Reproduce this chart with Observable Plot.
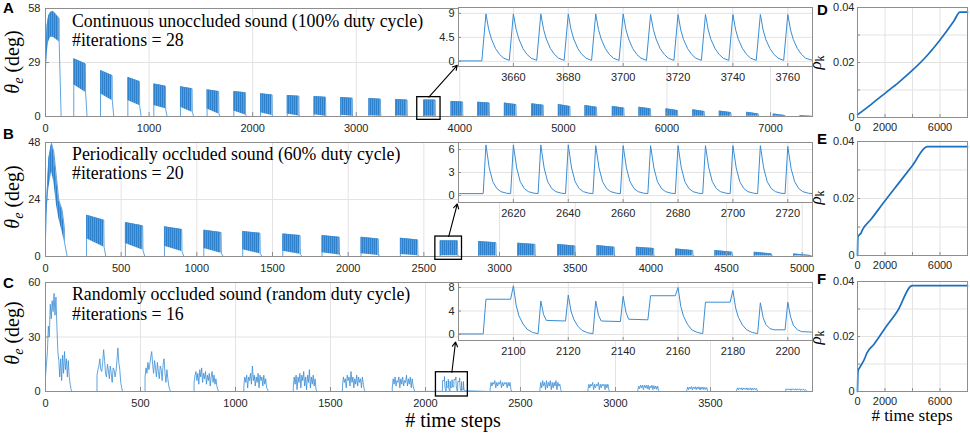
<!DOCTYPE html>
<html><head><meta charset="utf-8">
<script src="https://cdn.jsdelivr.net/npm/d3@7"></script>
<script src="https://cdn.jsdelivr.net/npm/@observablehq/plot@0.6"></script>
<style>
html,body{margin:0;padding:0;background:#fff;}
#wrap{position:relative;width:970px;height:434px;overflow:hidden;background:#fff;}
.p{position:absolute;}
</style></head><body>
<svg width="0" height="0" style="position:absolute"><defs>
<pattern id="hatch" patternUnits="userSpaceOnUse" width="2" height="3">
<rect width="2" height="3" fill="#579dda"/><rect width="1" height="3" fill="#2e80ca"/>
</pattern></defs></svg>
<div id="wrap"></div>
<script>
// ---------------- Panel A: continuous sound ----------------
const A_xticks = [0,1000,2000,3000,4000,5000,6000,7000];
const A_yticks = [0,29,58];
const A_start = [0,273,531,795,1046,1303,1560,1818,2076,2334,2592,2850,3122,3379,3650,3915,4172,4430,4693,4951,5208,5472,5729,5990,6248,6505,6769,7026,7283];
const A1_t  = [0,8,16,30,50,74,113,132];
const A1_lo = [23,28,34,40,42.5,42.5,41,40];
const A1_hi = [25,38,49,54,56,56.4,54,52.5];
const A1_end = 151;
const A_hi0 = [31,24.7,21,17.5,16,14.3,13.4,12.2,11.3,10.7,10.2,9.7,9.1,8.9,8.1,7.7,7.2,6.8,6.4,5.9,5.4,5,4.1,3.6,2.9,2.3,1.4,0.5];
const A_hi1 = [28.3,22,18.8,16.3,14.9,13.4,12.8,11.6,10.9,10.3,9.8,9.3,8.8,8.8,7.8,7.2,6.4,6.1,5.4,5,4.5,4.1,3.2,2.7,2.1,1.4,0.5,0.2];
const A_lo0 = [17,12.2,8.6,5.9,5,4,3,2,1.4,1,0.7,0.4,0.3,0.1,0.1,0.1,0.1,0.1,0.1,0.1,0.1,0.1,0.1,0.1,0.1,0.1,0.1,0.1];
const A_lo1 = [13,8.6,5.9,4.1,2.3,1.4,0.8,0.5,0.3,0.2,0.2,0.1,0.1,0.1,0.1,0.1,0.1,0.1,0.1,0.1,0.1,0.1,0.1,0.1,0.1,0.1,0.1,0.1];
const A_box = {x1:3589,x2:3814,y1:-1.8,y2:10.4};
const A_arrow = {x1:3701,y1:10.4,x2:3975,y2:27.5};
// inset A
const AI_xticks = [3660,3680,3700,3720,3740,3760];
const AI_yticks = [0,4.5,9];
const AI_data = [
[3640,0.1],[3648.5,0.1],
[3650,8.9],[3651,6],[3652,4.2],[3653.5,2.4],[3655,1.3],[3656.5,0.6],[3658.5,0.2],
[3660,8.9],[3661,6],[3662,4.2],[3663.5,2.4],[3665,1.3],[3666.5,0.6],[3668.5,0.2],
[3670,8.9],[3671,6],[3672,4.2],[3673.5,2.4],[3675,1.3],[3676.5,0.6],[3678.5,0.2],
[3680,8.9],[3681,6],[3682,4.2],[3683.5,2.4],[3685,1.3],[3686.5,0.6],[3688.5,0.2],
[3690,8.9],[3691,6],[3692,4.2],[3693.5,2.4],[3695,1.3],[3696.5,0.6],[3698.5,0.2],
[3700,8.9],[3701,6],[3702,4.2],[3703.5,2.4],[3705,1.3],[3706.5,0.6],[3708.5,0.2],
[3710,8.8],[3711,6],[3712,4.2],[3713.5,2.4],[3715,1.3],[3716.5,0.6],[3718.5,0.2],
[3720,8.8],[3721,5.9],[3722,4.1],[3723.5,2.4],[3725,1.3],[3726.5,0.6],[3728.5,0.2],
[3730,8.8],[3731,5.9],[3732,4.1],[3733.5,2.4],[3735,1.3],[3736.5,0.6],[3738.5,0.2],
[3740,8.8],[3741,5.9],[3742,4.1],[3743.5,2.4],[3745,1.3],[3746.5,0.6],[3748.5,0.2],
[3750,8.8],[3751,5.9],[3752,4.1],[3753.5,2.4],[3755,1.3],[3756.5,0.6],[3758.5,0.2],
[3760,8.8],[3761,5.9],[3762,4.1],[3763.5,2.4],[3765,1.3],[3766.5,0.6],[3769,0.2]
];

// ---------------- Panel B: periodically occluded ----------------
const B_xticks = [0,500,1000,1500,2000,2500,3000,3500,4000,4500,5000];
const B_yticks = [0,24,48];
const B_start = [0,271,528,786,1046,1303,1568,1827,2085,2345,2608,2862,3120,3384,3644,3904,4163,4423,4683,4943];
const B1_t  = [0,7,22,40,55,73,88,110,125];
const B1_lo = [7.6,18,28.6,35.7,31.4,21.6,16,10.4,6.2];
const B1_hi = [7.6,21.6,41.3,47.6,44,32.8,23.7,19.5,11.8];
const B1_end = 143;
const B_hi0 = [17.4,14.3,12.5,11.1,10.5,9.5,8.8,8.1,7.7,6.6,6.3,5.6,5.1,4.6,3.9,3.2,2.5,1.8,1.1];
const B_hi1 = [15.3,12.9,11.4,10.1,9.8,8.8,8.1,7.4,7.0,6.6,5.8,5.1,4.4,3.9,3.4,2.5,1.8,1.1,0.4];
const B_lo0 = [7.5,5.5,4.3,3.4,2.8,2.2,1.6,1.2,0.8,0.3,0.2,0.2,0.2,0.2,0.2,0.2,0.2,0.2,0.2];
const B_lo1 = [4,2.7,2.1,1.4,1.2,0.9,0.6,0.4,0.3,0.3,0.2,0.2,0.2,0.2,0.2,0.2,0.2,0.2,0.2];
const B_box = {x1:2576,x2:2752,y1:-1.4,y2:8.4};
const B_arrow = {x1:2664,y1:8.4,x2:2721,y2:22.1};
// inset B
const BI_xticks = [2620,2640,2660,2680,2700,2720];
const BI_yticks = [0,3,6];
const BI_data = [
[2600,0.25],[2609,0.25],
[2610,6.6],[2611.2,3.6],[2612.5,1.8],[2614,0.9],[2615.5,0.5],[2617.5,0.3],[2619,0.25],
[2620,6.6],[2621.2,3.6],[2622.5,1.8],[2624,0.9],[2625.5,0.5],[2627.5,0.3],[2629,0.25],
[2630,6.6],[2631.2,3.6],[2632.5,1.8],[2634,0.9],[2635.5,0.5],[2637.5,0.3],[2639,0.25],
[2640,6.6],[2641.2,3.6],[2642.5,1.8],[2644,0.9],[2645.5,0.5],[2647.5,0.3],[2649,0.25],
[2650,6.5],[2651.2,3.6],[2652.5,1.8],[2654,0.9],[2655.5,0.5],[2657.5,0.3],[2659,0.25],
[2660,6.5],[2661.2,3.6],[2662.5,1.8],[2664,0.9],[2665.5,0.5],[2667.5,0.3],[2669,0.25],
[2670,6.5],[2671.2,3.6],[2672.5,1.8],[2674,0.9],[2675.5,0.5],[2677.5,0.3],[2679,0.25],
[2680,6.5],[2681.2,3.6],[2682.5,1.8],[2684,0.9],[2685.5,0.5],[2687.5,0.3],[2689,0.25],
[2690,6.5],[2691.2,3.6],[2692.5,1.8],[2694,0.9],[2695.5,0.5],[2697.5,0.3],[2699,0.25],
[2700,6.5],[2701.2,3.6],[2702.5,1.8],[2704,0.9],[2705.5,0.5],[2707.5,0.3],[2709,0.25],
[2710,6.5],[2711.2,3.6],[2712.5,1.8],[2714,0.9],[2715.5,0.5],[2717.5,0.3],[2719,0.25],
[2720,6.4],[2721.2,3.5],[2722.5,1.8],[2724,0.9],[2725.5,0.5],[2727.5,0.3],[2729,0.25]
];

// ---------------- Panel C: randomly occluded ----------------
const C_xticks = [0,500,1000,1500,2000,2500,3000,3500];
const C_yticks = [0,30,60];
const C_start = [0,271,524,782,1044,1304,1563,1825,2080,2340,2602,2855,3117,3375,3637,3894];
const C_step = 5;
const C_vals = [
 [8,15,22,36,30,48,40,50,44,54,42,52,36,22,17,8,18,6,20,10,22,12,18,8,17,8,4,1,0],
 [9,12,14,18,12,11,16,23,17,10,8,15,12,7,14,10,5,13,12,8,11,17,24,16,12,5,2,0],
 [8,13,10,16,12,15,19,22,15,10,17,13,8,16,11,7,14,12,6,15,18,10,5,12,7,3,1,0],
 [5,9,11,6,10,4,12,8,13,5,10,7,11,4,9,6,10,3,8,11,5,9,4,7,3,1,0],
 [3,8,5,9,2,8,6,10,4,14,6,9,3,8,5,10,2,9,6,8,3,9,4,7,2,1,0],
 [2,8,4,9,1,8,5,10,2,9,6,11,3,8,1,9,5,12,2,8,4,9,3,7,1,0],
 [3,8,5,7,2,9,6,8,3,11,5,8,2,7,4,9,3,8,5,7,2,8,4,1,0],
 [2,7,4,8,3,6,5,8,2,7,4,8,3,6,5,9,3,7,4,8,2,7,3,1,0],
 null,
 [1,5,3,5,4,6,2,5,3,5,4,6,2,5,3,5,4,5,2,5,3,5,1,0],
 [1,5,2,6,3,5,1,6,2,5,3,6,1,5,2,5,3,6,1,5,3,4,1,0],
 [1,4,2,4,3,5,1,4,2,4,3,5,1,4,2,4,3,4,1,4,2,4,1,0],
 [0.5,3,1.5,3.5,2,3.5,1,3.5,2,3.5,1.5,3.5,1,3,2,3.5,1,3.2,1.5,3,1.2,3,0.6,0],
 [0.5,2.5,1,2.5,1.5,2.7,0.8,2.5,1.5,2.6,1,2.5,1.4,2.6,0.8,2.4,1.2,2.5,1,2.3,1.1,2.2,0.5,0],
 [0.3,2,1,2,1.2,2,0.8,2,1.2,1.9,1,2,0.8,1.8,1,2,0.7,1.9,1,1.8,0.9,1.7,0.4,0],
 [0.2,1.5,0.8,1.5,0.9,1.5,0.6,1.5,1,1.4,0.8,1.5,0.7,1.4,0.9,1.5,0.6,1.4,0.8,1.3,0.7,1.2,0.4,0]
];
const C_box = {x1:2055,x2:2223,y1:-2.75,y2:10.6};
const C_arrow = {x1:2139,y1:10.6,x2:2158,y2:27.2};
// inset C (also burst 9 of the main panel)
const CI_xticks = [2100,2120,2140,2160,2180,2200];
const CI_yticks = [0,4,8];
const CI_data = [
[2080,0.1],[2089,0.1],[2090,6.0],[2099,6.0],[2100,8.3],[2101,5.0],[2102,3.2],[2103.5,1.8],[2105,0.9],[2107,0.35],[2109,0.15],
[2110,5.7],[2111,3.4],[2112,2.4],[2119,2.3],
[2120,6.7],[2121,4.0],[2122,2.6],[2123.5,1.4],[2125,0.7],[2127,0.3],[2129,0.15],
[2130,5.7],[2131,3.3],[2132,2.3],[2139,2.2],
[2140,6.5],[2141,3.8],[2142,2.6],[2149,2.5],[2150,6.6],[2159,6.6],
[2160,8.0],[2161,4.8],[2162,3.1],[2163.5,1.7],[2165,0.8],[2167,0.35],[2169,0.15],[2170,5.5],[2179,5.5],
[2180,7.5],[2181,4.5],[2182,2.9],[2183.5,1.6],[2185,0.8],[2187,0.35],[2189,0.15],
[2190,5.4],[2191,2.9],[2192,1.7],[2193.5,1.0],[2195,0.8],[2199,0.8],
[2200,5.5],[2201,3.0],[2202,1.6],[2203.5,0.8],[2205,0.5],[2209,0.4]
];

// ---------------- Panels D, E, F: rho_k ----------------
const R_xticks = [0,2000,4000,6000,8000];
const R_xlabels = [0,2000,6000];
const R_yticks = [0,0.01,0.02,0.03,0.04];
const R_ylabels = [0,0.02,0.04];
const D_t = [0,1000,2000,3000,4000,5000,6000,7000,7450,8000];
const D_v = [0.001,0.0048,0.0088,0.0128,0.0172,0.0222,0.0282,0.0350,0.0383,0.0383];
const E_t = [0,30,120,250,340,1000,2000,3000,4000,5070,8000];
const E_v = [0,0.0065,0.0072,0.0078,0.0088,0.0128,0.0192,0.0254,0.0316,0.0382,0.0382];
const F_t = [0,40,170,460,700,1200,2000,2900,3980,8000];
const F_v = [0,0.0075,0.0088,0.0113,0.0141,0.0172,0.0230,0.0292,0.0385,0.0385];

// ---------------- text ----------------
const panelLetters = [["A",3,13],["B",3,139],["C",3,288],["D",817,15],["E",817,144],["F",817,284]];
const titles = [
 ["Continuous unoccluded sound (100% duty cycle)",72,26.5],["#iterations = 28",72,46],
 ["Periodically occluded sound (60% duty cycle)",72,159.5],["#iterations = 20",72,179],
 ["Randomly occluded sound (random duty cycle)",72,300],["#iterations = 16",72,320]
];

// ================= drawing =================
const wrap = document.getElementById("wrap");
const FRAME = "#8e8e8e", GRID = "#e3e3e3", SIG = "#3a8dd4", RHO = "#1c6fbf", TXT = "#262626";
const baseStyle = {fontFamily: "'Liberation Sans', Arial, sans-serif", fontSize: "11px", color: TXT, background: "transparent", overflow: "visible"};
function place(el, left, top) {
  const d = document.createElement("div"); d.className = "p";
  d.style.left = left + "px"; d.style.top = top + "px";
  d.appendChild(el); wrap.appendChild(d);
}
const fmt = d => String(d);

function envelope(starts, t1, lo1, hi1, end1, hi0, hi1e, lo0, lo1e, len, tail) {
  const area = [], line = [];
  t1.forEach((t, i) => { area.push({b: 0, t, lo: lo1[i], hi: hi1[i]}); line.push({t, v: hi1[i]}); });
  const n = t1.length - 1;
  line.push({t: t1[n], v: lo1[n]}, {t: end1, v: 0});
  for (let k = 1; k < starts.length; k++) {
    const j = k - 1, s = starts[k], e = s + len;
    area.push({b: k, t: s, lo: lo0[j], hi: hi0[j]}, {b: k, t: e, lo: lo1e[j], hi: hi1e[j]});
    line.push({t: s, v: 0}, {t: s, v: hi0[j]}, {t: e, v: hi1e[j]}, {t: e + 2, v: lo1e[j]}, {t: e + tail, v: 0});
  }
  return {area, line};
}

function mainPlot({xdom, ydom, xt, yt, area, line, box, arrow, h, mt, mb = 20}) {
  const w = 820, ml = 45, mr = 8;
  const fh = h - mt - mb, fw = w - ml - mr;
  return Plot.plot({
    width: w, height: h, marginLeft: ml, marginRight: mr, marginTop: mt, marginBottom: mb,
    style: baseStyle,
    x: {domain: xdom, label: null}, y: {domain: ydom, label: null},
    marks: [
      Plot.gridX(xt, {stroke: GRID, strokeOpacity: 1}),
      Plot.gridY(yt, {stroke: GRID, strokeOpacity: 1}),
      area ? Plot.areaY(area, {x: "t", y1: "lo", y2: "hi", z: "b", fill: "url(#hatch)", clip: true}) : null,
      Plot.line(line, {x: "t", y: "v", stroke: SIG, strokeWidth: 0.8, clip: true}),
      Plot.frame({stroke: FRAME}),
      Plot.ruleX(xt, {x: d => d, stroke: FRAME, insetTop: fh - 4}),
      Plot.ruleY(yt, {y: d => d, stroke: FRAME, insetRight: fw - 4}),
      Plot.axisX(xt, {tickSize: 0, tickPadding: 8, tickFormat: fmt, fill: TXT, label: null}),
      Plot.axisY(yt, {tickSize: 0, tickPadding: 5, tickFormat: fmt, fill: TXT, label: null}),
      Plot.rect([box], {x1: "x1", x2: "x2", y1: "y1", y2: "y2", stroke: "black", strokeWidth: 1.3, fill: "none"}),
      Plot.arrow([arrow], {x1: "x1", y1: "y1", x2: "x2", y2: "y2", stroke: "black", strokeWidth: 1.1, headLength: 7})
    ]
  });
}

function insetPlot({xdom, ydom, xt, yt, data, h}) {
  const w = 400, ml = 38, mr = 8, mt = 7, mb = 16;
  const fh = h - mt - mb, fw = w - ml - mr;
  return Plot.plot({
    width: w, height: h, marginLeft: ml, marginRight: mr, marginTop: mt, marginBottom: mb,
    style: baseStyle,
    x: {domain: xdom, label: null}, y: {domain: ydom, label: null},
    marks: [
      Plot.frame({fill: "white", stroke: "none"}),
      Plot.gridX(xt, {stroke: GRID, strokeOpacity: 1}),
      Plot.gridY(yt, {stroke: GRID, strokeOpacity: 1}),
      Plot.line(data, {x: d => d[0], y: d => d[1], stroke: SIG, strokeWidth: 1, clip: true}),
      Plot.frame({stroke: FRAME}),
      Plot.ruleX(xt, {x: d => d, stroke: FRAME, insetTop: fh - 3}),
      Plot.ruleY(yt, {y: d => d, stroke: FRAME, insetRight: fw - 3}),
      Plot.axisX(xt, {tickSize: 0, tickPadding: 7, tickFormat: fmt, fill: TXT, label: null}),
      Plot.axisY(yt, {tickSize: 0, tickPadding: 4, tickFormat: fmt, fill: TXT, label: null})
    ]
  });
}

function rhoPlot({t, v, h, mt}) {
  const w = 145, ml = 32, mr = 3, mb = 18;
  const fh = h - mt - mb, fw = w - ml - mr;
  const rows = t.map((x, i) => ({t: x, v: v[i]}));
  return Plot.plot({
    width: w, height: h, marginLeft: ml, marginRight: mr, marginTop: mt, marginBottom: mb,
    style: baseStyle,
    x: {domain: [0, 8000], label: null}, y: {domain: [0, 0.04], label: null},
    marks: [
      Plot.gridX(R_xticks, {stroke: GRID, strokeOpacity: 1}),
      Plot.gridY(R_yticks, {stroke: GRID, strokeOpacity: 1}),
      Plot.line(rows, {x: "t", y: "v", stroke: RHO, strokeWidth: 1.7, curve: "monotone-x"}),
      Plot.frame({stroke: FRAME}),
      Plot.ruleX(R_xticks, {x: d => d, stroke: FRAME, insetTop: fh - 3}),
      Plot.ruleY(R_yticks, {y: d => d, stroke: FRAME, insetRight: fw - 3}),
      Plot.axisX(R_xlabels, {tickSize: 0, tickPadding: 6, tickFormat: fmt, fill: TXT, label: null}),
      Plot.axisY(R_ylabels, {tickSize: 0, tickPadding: 3, tickFormat: fmt, fill: TXT, label: null})
    ]
  });
}

// Panel A
const envA = envelope(A_start, A1_t, A1_lo, A1_hi, A1_end, A_hi0, A_hi1, A_lo0, A_lo1, 112, 16);
place(mainPlot({xdom: [0, 7405], ydom: [0, 58], xt: A_xticks, yt: A_yticks, area: envA.area, line: envA.line, box: A_box, arrow: A_arrow, h: 136, mt: 8}), 0, 0);
// Panel B
const envB = envelope(B_start, B1_t, B1_lo, B1_hi, B1_end, B_hi0, B_hi1, B_lo0, B_lo1, 114, 14);
place(mainPlot({xdom: [0, 5068], ydom: [0, 48], xt: B_xticks, yt: B_yticks, area: envB.area, line: envB.line, box: B_box, arrow: B_arrow, h: 146, mt: 12}), 0, 130);
// Panel C
const lineC = [];
C_start.forEach((s, i) => {
  if (C_vals[i] === null) { CI_data.forEach(d => lineC.push({t: d[0], v: d[1]})); return; }
  lineC.push({t: s, v: 0});
  C_vals[i].forEach((v, j) => lineC.push({t: s + j * C_step, v}));
});
place(mainPlot({xdom: [0, 4037], ydom: [0, 60], xt: C_xticks, yt: C_yticks, area: null, line: lineC, box: C_box, arrow: C_arrow, h: 141, mt: 12}), 0, 270);

// insets
place(insetPlot({xdom: [3640, 3769], ydom: [-0.95, 10.1], xt: AI_xticks, yt: AI_yticks, data: AI_data, h: 82}), 420, 0);
place(insetPlot({xdom: [2600, 2729], ydom: [-0.91, 6.91], xt: BI_xticks, yt: BI_yticks, data: BI_data, h: 83}), 420, 135);
place(insetPlot({xdom: [2080, 2209], ydom: [-1.02, 8.85], xt: CI_xticks, yt: CI_yticks, data: CI_data, h: 81}), 420, 275);

// right panels
place(rhoPlot({t: D_t, v: D_v, h: 135, mt: 7}), 825, 0);
place(rhoPlot({t: E_t, v: E_v, h: 143, mt: 11}), 825, 130);
place(rhoPlot({t: F_t, v: F_v, h: 139, mt: 11}), 825, 270);

// text overlay
const ov = d3.select(wrap).append("svg").attr("width", 970).attr("height", 434)
  .style("position", "absolute").style("left", "0px").style("top", "0px").style("pointer-events", "none");
panelLetters.forEach(([t, x, y]) => ov.append("text").attr("x", x).attr("y", y).text(t)
  .attr("font-family", "'Liberation Sans', Arial, sans-serif").attr("font-weight", "bold").attr("font-size", 15).attr("fill", "#000"));
titles.forEach(([t, x, y]) => ov.append("text").attr("x", x).attr("y", y).text(t)
  .attr("font-family", "'Liberation Serif', 'Times New Roman', serif").attr("font-size", 17.8).attr("fill", "#000"));
function thetaLabel(cx, cy) {
  const t = ov.append("text").attr("transform", `translate(${cx},${cy}) rotate(-90)`).attr("text-anchor", "middle")
    .attr("font-family", "'Liberation Serif', serif").attr("font-size", 20).attr("fill", "#000");
  t.append("tspan").attr("font-style", "italic").text("θ");
  t.append("tspan").attr("font-style", "italic").attr("font-size", 14).attr("dy", 4).text("e");
  t.append("tspan").attr("dy", -4).text(" (deg)");
}
thetaLabel(19, 62); thetaLabel(19, 197); thetaLabel(19, 333);
function rhoLabel(cx, cy) {
  const t = ov.append("text").attr("transform", `translate(${cx},${cy}) rotate(-90)`).attr("text-anchor", "middle")
    .attr("font-family", "'Liberation Serif', serif").attr("font-size", 17).attr("fill", "#000");
  t.append("tspan").attr("font-style", "italic").text("ρ");
  t.append("tspan").attr("font-size", 12).attr("dy", 3).text("k");
}
rhoLabel(821, 62.5); rhoLabel(821, 197.5); rhoLabel(821, 337.5);
ov.append("text").attr("x", 453).attr("y", 427).attr("text-anchor", "middle")
  .attr("font-family", "'Liberation Serif', serif").attr("font-size", 20).attr("fill", "#000").text("# time steps");
ov.append("text").attr("x", 912).attr("y", 421).attr("text-anchor", "middle")
  .attr("font-family", "'Liberation Serif', serif").attr("font-size", 17).attr("fill", "#000").text("# time steps");
</script>
</body></html>
